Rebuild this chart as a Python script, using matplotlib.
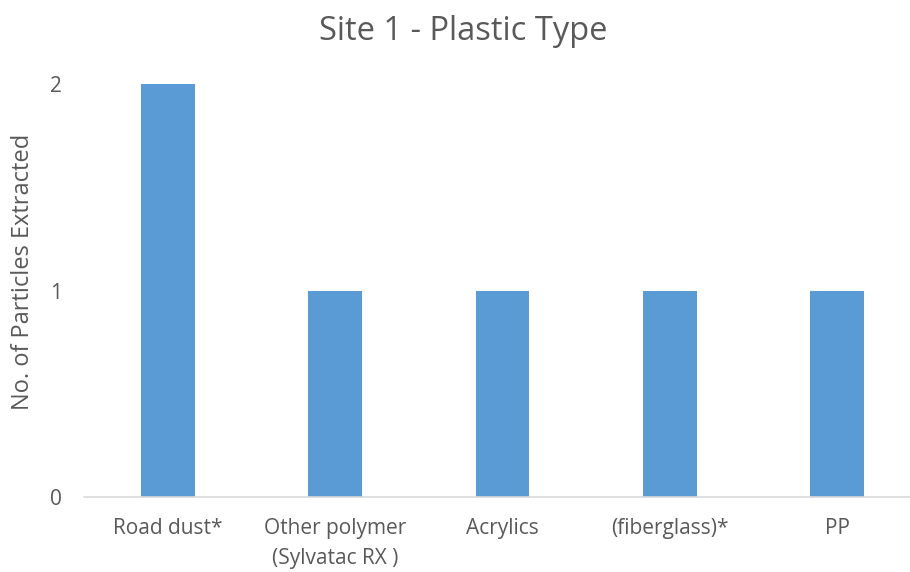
import matplotlib.pyplot as plt

categories = ['Road dust*', 'Other polymer\n(Sylvatac RX )', 'Acrylics', '(fiberglass)*', 'PP']
particles = [2, 1, 1, 1, 1]

text_grey = '#595959'
plt.rcParams['font.family'] = ['Open Sans', 'DejaVu Sans']

fig = plt.figure(figsize=(9.1, 5.72), dpi=100)
ax = fig.add_axes([0.0926, 0.1311, 0.9194, 0.722])

positions = range(len(categories))
ax.bar(positions, particles, width=0.32, color='#5B9BD5')

ax.set_xlim(-0.5, len(categories) - 0.5)
ax.set_ylim(0, 2)
ax.set_yticks([0, 1, 2])
ax.set_xticks(list(positions))
ax.set_xticklabels(categories, fontsize=15, color=text_grey, linespacing=1.6)
ax.tick_params(axis='y', length=0, pad=16, labelsize=15, labelcolor=text_grey)
ax.tick_params(axis='x', length=0, pad=15)

for side in ['top', 'right', 'left']:
    ax.spines[side].set_visible(False)
ax.spines['bottom'].set_color('#D9D9D9')
ax.spines['bottom'].set_linewidth(1.2)

ax.set_ylabel('No. of Particles Extracted', fontsize=17, color=text_grey)
ax.yaxis.set_label_coords(-0.059, 0.545)
fig.text(0.5088, 0.945, 'Site 1 - Plastic Type', ha='center', va='center',
         fontsize=23.5, color=text_grey)

fig.savefig('out.png')
